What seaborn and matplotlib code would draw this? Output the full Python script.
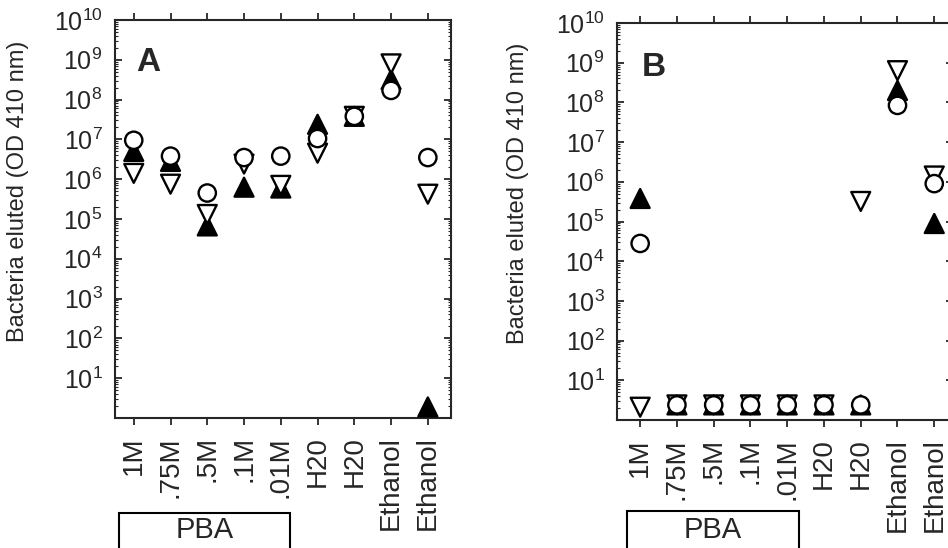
import numpy as np
import pandas as pd
import matplotlib
matplotlib.use("Agg")
import matplotlib.pyplot as plt
import matplotlib.ticker as mticker
from matplotlib.patches import Rectangle
import seaborn as sns

sns.set_style("ticks")
plt.rcParams["font.family"] = ["Liberation Sans", "DejaVu Sans"]
plt.rcParams["mathtext.fontset"] = "custom"
plt.rcParams["mathtext.rm"] = "Liberation Sans"
plt.rcParams["mathtext.it"] = "Liberation Sans"
plt.rcParams["mathtext.bf"] = "Liberation Sans:bold"

# ---- data ----
categories = ["1M", ".75M", ".5M", ".1M", ".01M", "H20", "H20", "Ethanol", "Ethanol"]

# panel A
a_filled_up = [5e6, 2.8e6, 6.7e4, 6.3e5, 6e5, 2.4e7, 3.8e7, 3.2e8, 1.9]
a_open_down = [1.4e6, 7.5e5, 1.3e5, 2.4e6, 7e5, 4.5e6, 3.8e7, 7.9e8, 4.2e5]
a_circle = [9.5e6, 3.8e6, 4.5e5, 3.5e6, 3.8e6, 1.05e7, 3.8e7, 1.7e8, 3.5e6]

# panel B
b_filled_up = [3.8e5, 2.4, 2.4, 2.4, 2.4, 2.4, 2.4, 2.0e8, 8.9e4]
b_open_down = [2.1, 2.4, 2.4, 2.4, 2.4, 2.4, 3.2e5, 6.3e8, 1.4e6]
b_circle = [2.8e4, 2.4, 2.4, 2.4, 2.4, 2.4, 2.4, 8.4e7, 9e5]

series_order = ["filled_up", "open_down", "circle"]
markers = {"filled_up": "^", "open_down": "v", "circle": "o"}
faces = {"filled_up": "black", "open_down": "white", "circle": "white"}
marker_sizes = {"filled_up": 185, "open_down": 185, "circle": 155}


def long_frame(filled, down, circ):
    pos = np.arange(len(categories))
    parts = []
    for name, vals in zip(series_order, [filled, down, circ]):
        parts.append(pd.DataFrame({"pos": pos, "value": vals, "series": name}))
    return pd.concat(parts, ignore_index=True)


def draw_panel(ax, df, letter, xlim, letter_xy):
    sns.scatterplot(data=df, x="pos", y="value", hue="series", style="series",
                    size="series", sizes=marker_sizes,
                    markers=markers, palette=faces, edgecolor="black",
                    linewidth=1.7, legend=False, ax=ax, zorder=3)
    ax.set_yscale("log")
    ax.set_ylim(1, 1e10)
    ax.set_xlim(*xlim)
    ax.set_xticks(np.arange(len(categories)))
    ax.set_xticklabels(categories, rotation=90, fontsize=20)
    ax.yaxis.set_major_locator(mticker.FixedLocator([10.0 ** k for k in range(1, 11)]))
    ax.yaxis.set_major_formatter(mticker.LogFormatterMathtext())
    ax.yaxis.set_minor_locator(mticker.LogLocator(base=10, subs=np.arange(2, 10), numticks=20))
    ax.yaxis.set_minor_formatter(mticker.NullFormatter())
    ax.tick_params(axis="y", which="major", direction="in", length=5, width=1.3,
                   labelsize=18, pad=9, right=True)
    ax.tick_params(axis="y", which="minor", direction="in", length=2.5, width=0.8, right=True)
    ax.tick_params(axis="x", direction="out", length=5, width=1.3, pad=8, top=True)
    for sp in ax.spines.values():
        sp.set_visible(True)
        sp.set_linewidth(1.5)
    ax.set_xlabel("")
    ax.set_ylabel("Bacteria eluted (OD 410 nm)", fontsize=17)
    ax.text(letter_xy[0], letter_xy[1], letter, transform=ax.transAxes,
            fontsize=24, fontweight="bold", ha="center", va="center")


fig = plt.figure(figsize=(9.48, 5.48), dpi=100)
ax_a = fig.add_axes([115 / 948, 1 - 418 / 548, 336 / 948, 398 / 548])
ax_b = fig.add_axes([617 / 948, 1 - 420 / 548, 336 / 948, 397 / 548])

draw_panel(ax_a, long_frame(a_filled_up, a_open_down, a_circle), "A", (-0.51, 8.63), (0.098, 0.894))
draw_panel(ax_b, long_frame(b_filled_up, b_open_down, b_circle), "B", (-0.63, 8.51), (0.11, 0.887))
ax_a.yaxis.set_label_coords(-0.255, 0.57)
ax_b.yaxis.set_label_coords(-0.262, 0.57)

# PBA brackets under the first five categories
for x0, x1, y0 in [(119, 290, 513), (627, 799, 511)]:
    fig.patches.append(Rectangle((x0 / 948, 1 - 560 / 548), (x1 - x0) / 948, (560 - y0) / 548,
                                 transform=fig.transFigure, fill=False,
                                 edgecolor="black", linewidth=1.5))
    fig.text((x0 + x1) / 2 / 948, 1 - 530 / 548, "PBA", fontsize=21,
             ha="center", va="center")

fig.savefig("out.png", dpi=100)
